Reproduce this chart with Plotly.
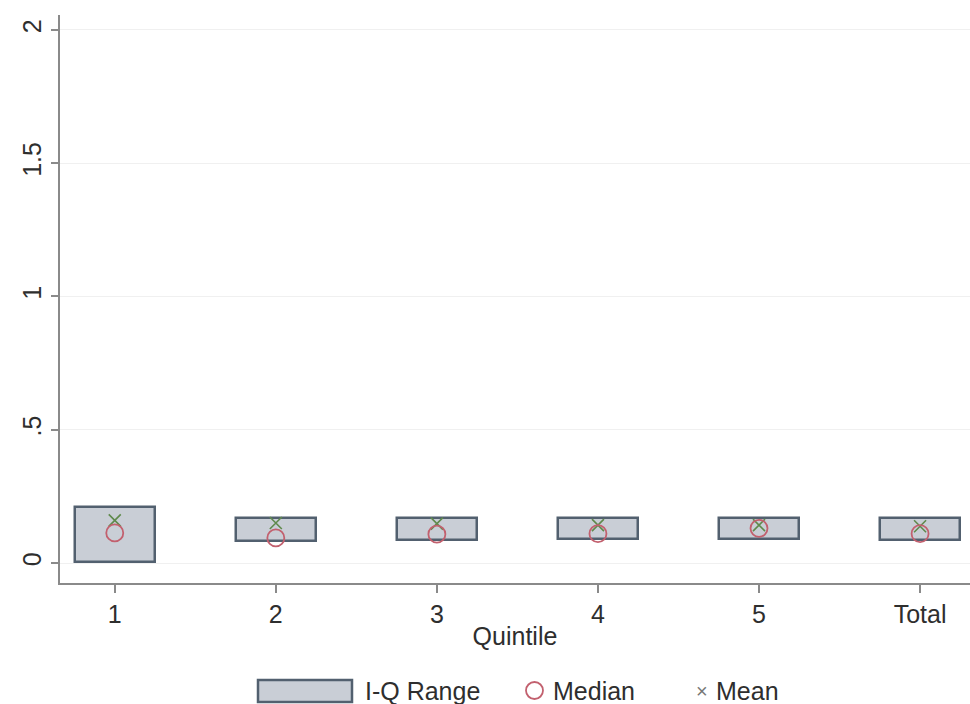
import plotly.graph_objects as go

# Quintile summary statistics
quintiles = ["1", "2", "3", "4", "5", "Total"]
q1_values = [0.005, 0.082, 0.085, 0.090, 0.090, 0.085]
q3_values = [0.210, 0.169, 0.169, 0.169, 0.169, 0.169]
median_values = [0.113, 0.094, 0.108, 0.110, 0.130, 0.110]
mean_values = [0.160, 0.150, 0.148, 0.142, 0.142, 0.138]

y_ticks = [0, 0.5, 1, 1.5, 2]
y_tick_labels = ["0", ".5", "1", "1.5", "2"]

box_fill = "#c9ced6"
box_line = "#52606f"
median_color = "#c2606e"
mean_color = "#5f8a4c"
text_color = "#2e2e2e"
font_family = "Liberation Sans, Arial, sans-serif"
fsize = 25

xpos = list(range(len(quintiles)))
heights = [hi - lo for lo, hi in zip(q1_values, q3_values)]

fig = go.Figure()
fig.add_trace(go.Bar(
    x=xpos, y=heights, base=q1_values, width=0.5,
    marker=dict(color=box_fill, line=dict(color=box_line, width=2.5)),
    name="I-Q Range", showlegend=False,
))
fig.add_trace(go.Scatter(
    x=xpos, y=mean_values, mode="markers",
    marker=dict(symbol="x-thin-open", size=12, color=mean_color,
                line=dict(color=mean_color, width=1.6)),
    name="Mean", showlegend=False,
))
fig.add_trace(go.Scatter(
    x=xpos, y=median_values, mode="markers",
    marker=dict(symbol="circle-open", size=17, color=median_color,
                line=dict(color=median_color, width=1.8)),
    name="Median", showlegend=False,
))

# Legend drawn below the axis title
def px_x(v):
    return (v - 60) / 910


def px_y(v):
    return (583 - v) / 568


fig.add_shape(type="rect", xref="paper", yref="paper",
              x0=px_x(258), x1=px_x(352), y0=px_y(702), y1=px_y(680),
              fillcolor=box_fill, line=dict(color=box_line, width=2.5))
fig.add_annotation(xref="paper", yref="paper", x=px_x(363), y=px_y(691),
                   text="I-Q Range", showarrow=False, xanchor="left", yanchor="middle",
                   font=dict(size=fsize, color=text_color, family=font_family))
fig.add_shape(type="circle", xref="paper", yref="paper",
              x0=px_x(526), x1=px_x(543), y0=px_y(699), y1=px_y(682),
              line=dict(color=median_color, width=1.8))
fig.add_annotation(xref="paper", yref="paper", x=px_x(551), y=px_y(691),
                   text="Median", showarrow=False, xanchor="left", yanchor="middle",
                   font=dict(size=fsize, color=text_color, family=font_family))
fig.add_annotation(xref="paper", yref="paper", x=px_x(702), y=px_y(691),
                   text="×", showarrow=False, xanchor="center", yanchor="middle",
                   font=dict(size=20, color="#777777", family=font_family))
fig.add_annotation(xref="paper", yref="paper", x=px_x(714), y=px_y(691),
                   text="Mean", showarrow=False, xanchor="left", yanchor="middle",
                   font=dict(size=fsize, color=text_color, family=font_family))

fig.update_layout(
    width=970, height=704,
    margin=dict(l=60, r=0, t=15, b=121),
    paper_bgcolor="white", plot_bgcolor="white",
    font=dict(family=font_family, size=fsize, color=text_color),
    showlegend=False,
    bargap=0,
)
fig.update_xaxes(
    range=[-0.34, 5.31], tickvals=xpos, ticktext=quintiles,
    showline=True, linecolor="#8a8a8a", linewidth=2,
    ticks="outside", ticklen=8, tickcolor="#8a8a8a", tickwidth=1.5,
    showgrid=False, zeroline=False,
    title=dict(text="Quintile", standoff=0, font=dict(size=fsize)),
    tickfont=dict(size=fsize),
)
fig.update_yaxes(
    range=[-0.075, 2.056], tickvals=y_ticks, ticktext=y_tick_labels,
    tickangle=-90,
    showline=True, linecolor="#8a8a8a", linewidth=2,
    ticks="outside", ticklen=7, tickcolor="#8a8a8a", tickwidth=1.5,
    showgrid=True, gridcolor="#f0f0f0", gridwidth=1, zeroline=False,
    tickfont=dict(size=fsize),
)

fig.write_html("out.html")
